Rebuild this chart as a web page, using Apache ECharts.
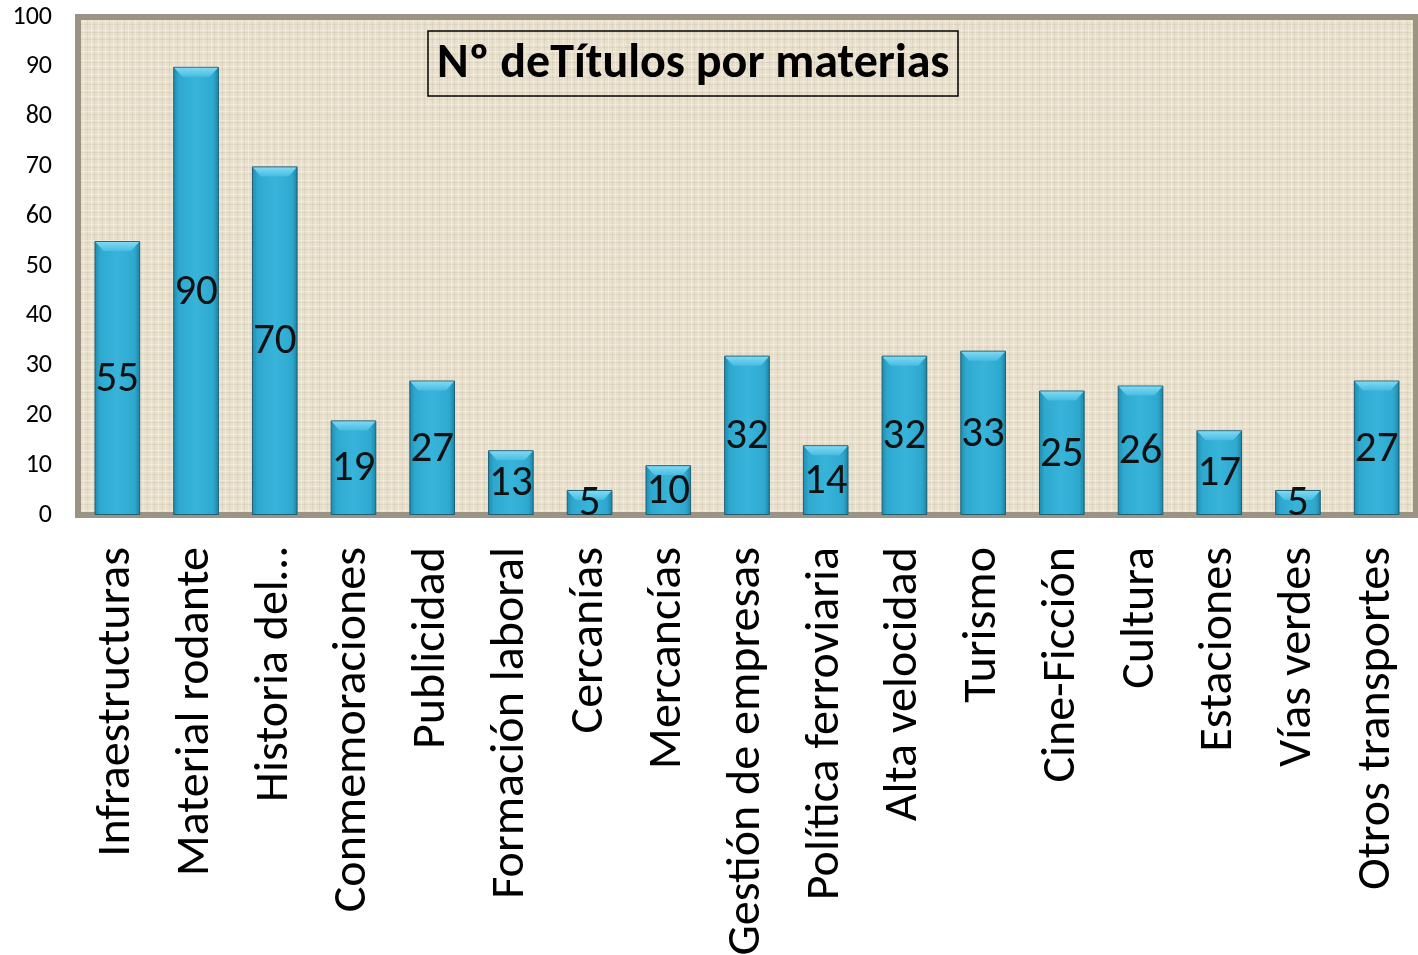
<!DOCTYPE html>
<html><head><meta charset="utf-8">
<script src="https://cdn.jsdelivr.net/npm/echarts@6/dist/echarts.min.js"></script>
<style>html,body{margin:0;padding:0;background:#fff;overflow:hidden}#c{width:1418px;height:955px}</style>
</head><body><div id="c"></div>
<script>
const categories = ["Infraestructuras","Material rodante","Historia del…","Conmemoraciones","Publicidad","Formación laboral","Cercanías","Mercancías","Gestión de empresas","Política ferroviaria","Alta velocidad","Turismo","Cine-Ficción","Cultura","Estaciones","Vías verdes","Otros transportes"];
const values = [55,90,70,19,27,13,5,10,32,14,32,33,25,26,17,5,27];
const titleText = "Nº deTítulos por materias";
const yMin = 0, yMax = 100, yStep = 10;

const FONT = "Carlito, 'Open Sans', sans-serif";

// burlap-like background pattern (deterministic weave)
const pat = document.createElement('canvas');
pat.width = 30; pat.height = 30;
(function(){
  const g = pat.getContext('2d');
  g.fillStyle = '#e8dfcc'; g.fillRect(0,0,30,30);
  g.fillStyle = 'rgba(150,135,110,0.11)';
  [2,9,17,24].forEach(y=>g.fillRect(0,y,30,1));
  [4,12,19,27].forEach(x=>g.fillRect(x,0,1,30));
  g.fillStyle = 'rgba(255,252,242,0.35)';
  [0,6,14,21].forEach(y=>g.fillRect(0,y,30,1));
  [1,8,15,23].forEach(x=>g.fillRect(x,0,1,30));
})();

const chart = echarts.init(document.getElementById('c'), null, {renderer:'canvas'});
chart.setOption({
  animation:false,
  backgroundColor:'#ffffff',
  title:{
    text:titleText, left:428, top:31,
    borderColor:'#000', borderWidth:1.5, padding:[7,9,5,9],
    textStyle:{fontFamily:FONT, fontWeight:'bold', fontSize:48, lineHeight:53, color:'#000'}
  },
  grid:{
    left:78, right:2, top:17, bottom:440, show:true, containLabel:false, outerBoundsMode:'none',
    backgroundColor:{image:pat, repeat:'repeat'},
    borderColor:'#9b9484', borderWidth:6
  },
  xAxis:{
    type:'category', data:categories,
    axisLine:{show:false}, axisTick:{show:false},
    axisLabel:{rotate:90, margin:32, fontFamily:FONT, fontSize:48, color:'#000', interval:0}
  },
  yAxis:{
    type:'value', min:yMin, max:yMax, interval:yStep,
    axisLine:{show:false}, axisTick:{show:false}, splitLine:{show:false},
    axisLabel:{margin:26, fontFamily:FONT, fontSize:26, color:'#000'}
  },
  series:[{
    type:'bar', data:values, barWidth:'58%',
    itemStyle:{
      color:{type:'linear',x:0,y:0,x2:1,y2:0,colorStops:[{offset:0,color:'#1d8aad'},{offset:0.12,color:'#2ea8ce'},{offset:0.5,color:'#38b4da'},{offset:0.88,color:'#2ea8ce'},{offset:1,color:'#1a82a4'}]},
      borderColor:'#1d5f74', borderWidth:1
    },
    label:{show:false},
    z:2
  },{
    type:'custom', data:values.map((v,i)=>[i,v]), z:3, silent:true,
    renderItem:function(params, api){
      const i = api.value(0), v = api.value(1);
      const top = api.coord([i, v]);
      const mid = api.coord([i, v/2]);
      const w = api.size([1,0])[0]*0.58;
      const x0 = top[0]-w/2+1, x1 = top[0]+w/2-1, y0 = top[1]+1, h = 9, d = 8;
      return {type:'group', children:[
        {type:'polygon', shape:{points:[[x0,y0],[x1,y0],[x1-d,y0+h],[x0+d,y0+h]]},
          style:{fill:{type:'linear',x:0,y:0,x2:0,y2:1,colorStops:[{offset:0,color:'#7fd8f2'},{offset:1,color:'#47bde2'}]}}},
        {type:'text', z2:10, x:mid[0], y:mid[1]+2,
          style:{text:String(v), fontFamily:FONT, fontSize:43, fill:'#111', align:'center', verticalAlign:'middle'}}
      ]};
    }
  }]
});
</script></body></html>
